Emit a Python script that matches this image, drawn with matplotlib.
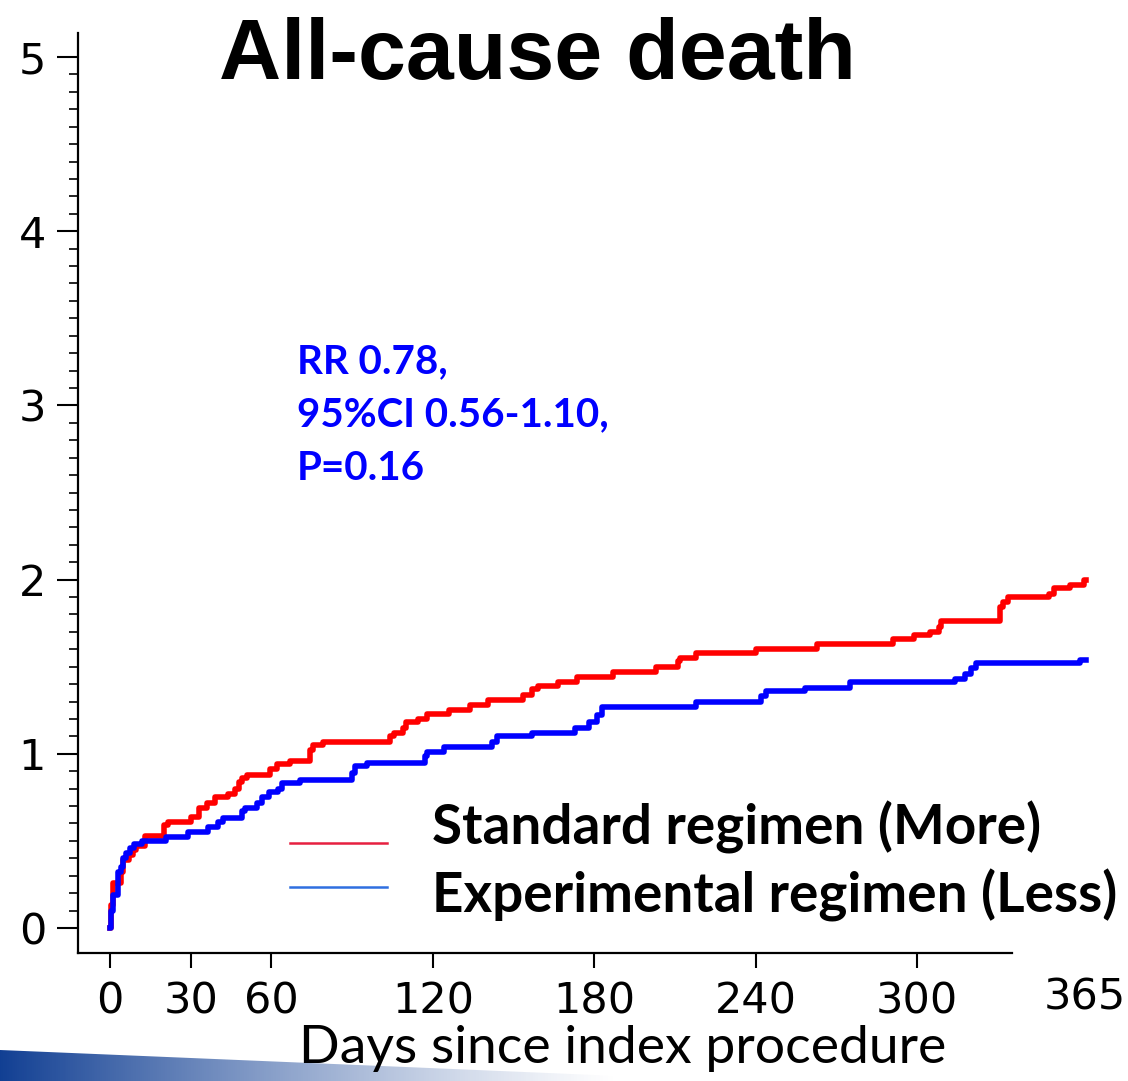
import numpy as np
import matplotlib
matplotlib.use("Agg")
import matplotlib.pyplot as plt
from matplotlib.lines import Line2D
from matplotlib.patches import Polygon
from matplotlib.ticker import FixedLocator

# Kaplan-Meier style cumulative event curves (%)
red_days = [0, 0.3, 1, 4, 5, 7, 8.5, 9.5, 13, 20, 21.5, 30, 33, 36, 39, 44, 46.5,
            48, 49, 51, 59.5, 62, 67, 74.5, 75.5, 79, 104, 105.5, 109, 110, 114.5,
            118, 126, 134, 140.5, 153.5, 157, 159, 166.5, 173.5, 187, 203, 211,
            212, 218, 240, 263, 291, 299, 305, 308, 309, 331, 332, 334, 349, 351,
            357, 362, 363]
red_vals = [0, 0.13, 0.26, 0.32, 0.39, 0.42, 0.45, 0.47, 0.53, 0.59, 0.61, 0.64,
            0.69, 0.72, 0.75, 0.77, 0.80, 0.84, 0.86, 0.88, 0.91, 0.94, 0.96, 1.02,
            1.05, 1.07, 1.10, 1.12, 1.15, 1.18, 1.20, 1.23, 1.25, 1.28, 1.31, 1.34,
            1.37, 1.39, 1.41, 1.44, 1.47, 1.50, 1.53, 1.55, 1.58, 1.60, 1.63, 1.66,
            1.68, 1.70, 1.73, 1.76, 1.84, 1.87, 1.90, 1.92, 1.95, 1.97, 2.00, 2.00]

blue_days = [0, 0.3, 1.2, 3, 4, 5, 6, 7.5, 9, 12, 21, 29, 36.5, 40, 42, 49, 50,
             54.5, 56.5, 59, 62.5, 64, 70.5, 90, 91, 95.5, 117, 118, 124, 142, 144,
             157, 173, 178, 181, 183, 218, 242, 244, 258.5, 275, 314, 318, 320, 322,
             360.5, 363]
blue_vals = [0, 0.10, 0.19, 0.32, 0.35, 0.40, 0.43, 0.46, 0.48, 0.50, 0.52, 0.55,
             0.58, 0.61, 0.63, 0.67, 0.69, 0.72, 0.75, 0.78, 0.80, 0.83, 0.85, 0.89,
             0.93, 0.95, 0.99, 1.01, 1.04, 1.07, 1.10, 1.12, 1.15, 1.18, 1.22, 1.27,
             1.30, 1.33, 1.36, 1.38, 1.41, 1.43, 1.46, 1.49, 1.52, 1.54, 1.54]

x_ticks = [0, 30, 60, 120, 180, 240, 300]
y_ticks = [0, 1, 2, 3, 4, 5]
series_labels = ["Standard regimen (More)", "Experimental regimen (Less)"]
stats_text = "RR 0.78,\n95%CI 0.56-1.10,\nP=0.16"

W, H = 1128, 1081
fig = plt.figure(figsize=(W / 100, H / 100), dpi=100)

# axes placement in pixels
px_day = 807 / 300.0
px_unit = 174.2
x0_px, y0_px = 110, 928
ax_left, ax_right = 78, 1100
ax_bottom, ax_top = 953, 33
ax = fig.add_axes([ax_left / W, 1 - ax_bottom / H,
                   (ax_right - ax_left) / W, (ax_bottom - ax_top) / H])
ax.set_xlim((ax_left - x0_px) / px_day, (ax_right - x0_px) / px_day)
ax.set_ylim((y0_px - ax_bottom) / px_unit, (y0_px - ax_top) / px_unit)

ax.step(red_days, red_vals, where="post", color="#FF0000", lw=4.0)
ax.step(blue_days, blue_vals, where="post", color="#0000FF", lw=4.0)

for s in ["top", "right"]:
    ax.spines[s].set_visible(False)
for s in ["left", "bottom"]:
    ax.spines[s].set_linewidth(1.6)
ax.spines["bottom"].set_bounds((ax_left - x0_px) / px_day, (1012 - x0_px) / px_day)

ax.set_xticks(x_ticks)
ax.set_xticklabels([str(t) for t in x_ticks])
ax.set_yticks(y_ticks)
ax.set_yticklabels([str(t) for t in y_ticks])
minor = [v / 10 for v in range(0, 51) if v % 10 != 0]
ax.yaxis.set_minor_locator(FixedLocator(minor))

ax.tick_params(axis="y", which="major", length=15, width=1.5, pad=8,
               labelsize=31, direction="out")
ax.tick_params(axis="y", which="minor", length=6.5, width=1.2, direction="out")
ax.tick_params(axis="x", which="major", length=11, width=1.5, pad=9,
               labelsize=31, direction="out")
for lab in ax.get_xticklabels() + ax.get_yticklabels():
    lab.set_fontfamily("DejaVu Sans")

ax.text((1085 - x0_px) / px_day, (y0_px - 997) / px_unit, "365",
        ha="center", va="center", fontsize=31, family="DejaVu Sans",
        clip_on=False)

# title
fig.text(537 / W, 1 - 57 / H, "All-cause death", ha="center", va="center",
         fontsize=62, fontweight="bold", family="Liberation Sans")

# statistics, one line at a time
for i, line in enumerate(stats_text.split("\n")):
    fig.text(297 / W, 1 - (373 + 53.5 * i) / H, line, ha="left", va="baseline",
             fontsize=29, fontweight="bold", family="Lato", color="#0000FF")

# hand-drawn legend
fig.add_artist(Line2D([290 / W, 387 / W], [1 - 843 / H, 1 - 843 / H],
                      color="#E62040", lw=1.8))
fig.add_artist(Line2D([290 / W, 387 / W], [1 - 887 / H, 1 - 887 / H],
                      color="#2F6FE0", lw=1.8))
fig.text(432 / W, 1 - 845 / H, series_labels[0], ha="left", va="baseline",
         fontsize=39.5, fontweight="bold", family="Lato")
fig.text(432 / W, 1 - 913 / H, series_labels[1], ha="left", va="baseline",
         fontsize=39.5, fontweight="bold", family="Lato")

# x label
fig.text(623 / W, 1 - 1063 / H, "Days since index procedure", ha="center",
         va="baseline", fontsize=38.5, family="Lato")

# slide decoration at the bottom left
bax = fig.add_axes([0, 0, 1, 40 / H])
bax.set_xlim(0, W)
bax.set_ylim(H, H - 40)
bax.axis("off")
grad = np.zeros((2, 256, 4))
grad[..., 0] = 0.07
grad[..., 1] = 0.25
grad[..., 2] = 0.58
grad[..., 3] = np.linspace(1, 0, 256) ** 1.2
im = bax.imshow(grad, extent=[0, 620, H, H - 40], aspect="auto", zorder=1)
clip = Polygon([[0, 1050], [620, 1076], [620, H], [0, H]], closed=True,
               transform=bax.transData, facecolor="none", edgecolor="none")
bax.add_patch(clip)
im.set_clip_path(clip)

fig.savefig("out.png", dpi=100)
